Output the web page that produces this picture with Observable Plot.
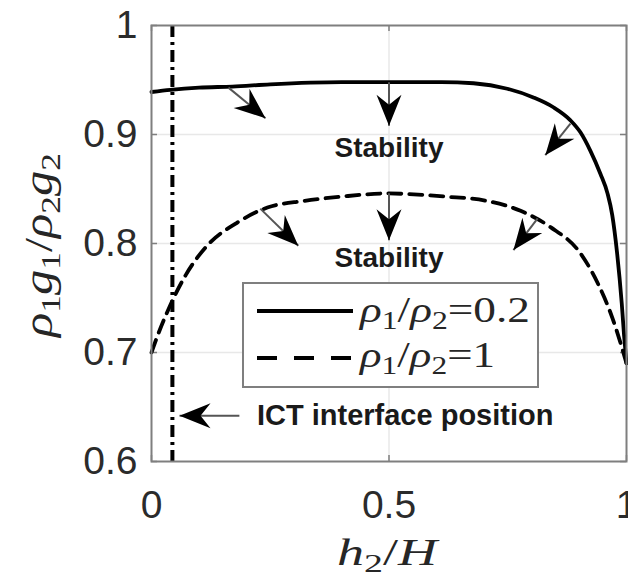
<!DOCTYPE html>
<html><head><meta charset="utf-8">
<script src="https://cdn.jsdelivr.net/npm/d3@7"></script>
<script src="https://cdn.jsdelivr.net/npm/@observablehq/plot@0.6"></script>
<style>
body{margin:0;background:#fff;}
#wrap{position:relative;width:628px;height:585px;overflow:hidden;background:#fff;}
#wrap svg{display:block;}
</style></head><body><div id="wrap"></div>
<script>
// ---- data ----
const xTicks = [0, 0.5, 1];
const yTicks = [0.6, 0.7, 0.8, 0.9, 1];
const gridX = [0.5];
const gridY = [0.7, 0.8, 0.9];

// rho1/rho2 = 0.2 (solid)
const solidX = [0, 0.04, 0.10, 0.17, 0.25, 0.40, 0.50, 0.61, 0.678, 0.749, 0.804, 0.846, 0.882, 0.903, 0.924, 0.945, 0.96, 0.97, 0.98, 0.99, 0.995, 1.0];
const solidY = [0.939, 0.941, 0.943, 0.944, 0.946, 0.948, 0.948, 0.948, 0.947, 0.942, 0.934, 0.925, 0.913, 0.902, 0.885, 0.864, 0.846, 0.826, 0.792, 0.745, 0.715, 0.690];
// rho1/rho2 = 1 (dashed)
const dashX = [0, 0.004, 0.036, 0.072, 0.117, 0.18, 0.244, 0.32, 0.40, 0.50, 0.552, 0.62, 0.707, 0.777, 0.84, 0.903, 0.939, 0.97, 0.99, 1.0];
const dashY = [0.700, 0.705, 0.740, 0.771, 0.798, 0.819, 0.833, 0.839, 0.843, 0.846, 0.845, 0.843, 0.839, 0.830, 0.815, 0.791, 0.764, 0.732, 0.705, 0.690];

const ictX = 0.044;

// annotation arrows (start -> tip)
const arrowX1 = [0.162, 0.5, 0.882, 0.229, 0.5, 0.813, 0.185];
const arrowY1 = [0.943, 0.948, 0.910, 0.832, 0.846, 0.823, 0.642];
const arrowX2 = [0.240, 0.5, 0.829, 0.309, 0.5, 0.762, 0.059];
const arrowY2 = [0.915, 0.908, 0.881, 0.798, 0.803, 0.794, 0.642];

const stabText = ["Stability", "Stability"];
const stabX = [0.5, 0.5];
const stabY = [0.888, 0.787];
const ictText = ["ICT interface position"];
const ictLabelX = [0.222];
const ictLabelY = [0.642];

// ---- layout ----
const W = 628, H = 585, ML = 151, MR = 2, MT = 25, MB = 124;
const xs = d3.scaleLinear([0, 1], [ML, W - MR]);
const ys = d3.scaleLinear([0.6, 1], [H - MB, MT]);

const solid = solidX.map((x, i) => ({x, y: solidY[i]}));
const dashed = dashX.map((x, i) => ({x, y: dashY[i]}));
const arrows = arrowX1.map((x1, i) => ({x1, y1: arrowY1[i], x2: arrowX2[i], y2: arrowY2[i]}));
arrows.forEach(a => {
  a.angle = Math.atan2(xs(a.x2) - xs(a.x1), ys(a.y1) - ys(a.y2)) * 180 / Math.PI;
});
const stab = stabText.map((t, i) => ({t, x: stabX[i], y: stabY[i]}));
const ict = ictText.map((t, i) => ({t, x: ictLabelX[i], y: ictLabelY[i]}));

const head = {draw(ctx) { ctx.moveTo(0, 0); ctx.lineTo(-12.5, 31); ctx.lineTo(0, 21); ctx.lineTo(12.5, 31); ctx.closePath(); }};

const dxT = 6 / 475, dyT = 0.4 * 6 / 436;
const tickStyle = {stroke: "#7f7f7f", strokeWidth: 1.5};
const boldFont = "'Liberation Sans', Arial, sans-serif";

const plot = Plot.plot({
  width: W, height: H,
  marginLeft: ML, marginRight: MR, marginTop: MT, marginBottom: MB,
  style: {fontFamily: "'Liberation Sans', Arial, sans-serif", fontSize: "39px", color: "#2b2b2b", background: "white"},
  x: {domain: [0, 1], ticks: xTicks, tickFormat: d => String(d), tickSize: 0, tickPadding: 29, label: null},
  y: {domain: [0.6, 1], ticks: yTicks, tickFormat: d => String(d), tickSize: 0, tickPadding: 14, label: null},
  marks: [
    Plot.ruleY(gridY, {stroke: "#e8e8e8", strokeWidth: 1.5}),
    Plot.ruleX(gridX, {stroke: "#e8e8e8", strokeWidth: 1.5}),
    Plot.ruleX(xTicks, {y1: 0.6, y2: 0.6 + dyT, ...tickStyle}),
    Plot.ruleX(xTicks, {y1: 1 - dyT, y2: 1, ...tickStyle}),
    Plot.ruleY(yTicks, {x1: 0, x2: dxT, ...tickStyle}),
    Plot.ruleY(yTicks, {x1: 1 - dxT, x2: 1, ...tickStyle}),
    Plot.line(solid, {x: "x", y: "y", stroke: "black", strokeWidth: 3.8, curve: "monotone-x"}),
    Plot.line(dashed, {x: "x", y: "y", stroke: "black", strokeWidth: 3.8, strokeDasharray: "13,8", curve: "monotone-x"}),
    Plot.ruleX([ictX], {stroke: "black", strokeWidth: 4, strokeDasharray: "12,5,3,5"}),
    Plot.link(arrows, {x1: "x1", y1: "y1", x2: "x2", y2: "y2", stroke: "#555", strokeWidth: 2}),
    Plot.dot(arrows, {x: "x2", y: "y2", rotate: "angle", symbol: head, fill: "black", stroke: "none", r: 10}),
    Plot.text(stab, {x: "x", y: "y", text: "t", textAnchor: "middle", fontWeight: "bold", fontSize: 28, fill: "#1a1a1a", fontFamily: boldFont}),
    Plot.text(ict, {x: "x", y: "y", text: "t", textAnchor: "start", fontWeight: "bold", fontSize: 29, fill: "#1a1a1a", fontFamily: boldFont}),
    Plot.frame({stroke: "#7f7f7f", strokeWidth: 2})
  ]
});

document.getElementById("wrap").appendChild(plot);

// axis titles (LaTeX-like math)
const svg = d3.select(plot);
const serif = "'Liberation Serif', 'DejaVu Serif', serif";
function mathText(g, parts, size) {
  const t = g.append("text").attr("font-family", serif).attr("font-size", size).attr("fill", "#262626");
  let shift = 0;
  parts.forEach(([s, kind]) => {
    const sp = t.append("tspan").text(s);
    if (kind === "i") sp.attr("font-style", "italic");
    if (kind === "sub") { sp.attr("font-size", size * 0.7); sp.attr("dy", size * 0.2 - shift); shift = size * 0.2; }
    else { sp.attr("dy", -shift); shift = 0; }
  });
  return t;
}
const yl = svg.append("g").attr("transform", "translate(52,245) rotate(-90)");
mathText(yl, [["ρ","i"],["1","sub"],["g","i"],["1","sub"],["/",""],["ρ","i"],["2","sub"],["g","i"],["2","sub"]], 40)
  .attr("text-anchor", "middle").attr("textLength", 184).attr("lengthAdjust", "spacingAndGlyphs");
const xl = svg.append("g").attr("transform", "translate(387,565)");
mathText(xl, [["h","i"],["2","sub"],["/",""],["H","i"]], 37)
  .attr("text-anchor", "middle").attr("textLength", 100).attr("lengthAdjust", "spacingAndGlyphs");

// legend box (inside axes)
const lg = d3.select("#wrap").append("svg")
  .attr("width", 298).attr("height", 107)
  .style("position", "absolute").style("left", "242px").style("top", "282px");
lg.append("rect").attr("x", 1).attr("y", 1).attr("width", 295).attr("height", 104)
  .attr("fill", "white").attr("stroke", "#7f7f7f").attr("stroke-width", 2);
lg.append("line").attr("x1", 15).attr("x2", 111).attr("y1", 29).attr("y2", 29).attr("stroke", "black").attr("stroke-width", 3.8);
lg.append("line").attr("x1", 15).attr("x2", 111).attr("y1", 76).attr("y2", 76).attr("stroke", "black").attr("stroke-width", 3.8).attr("stroke-dasharray", "20,17");
const legItems = [["0.2", 40, 170], ["1", 85, 135]];
legItems.forEach(([v, yy, len]) => {
  const g = lg.append("g").attr("transform", `translate(118,${yy})`);
  mathText(g, [["ρ","i"],["1","sub"],["/",""],["ρ","i"],["2","sub"],["=" + v,""]], 35)
    .attr("textLength", len).attr("lengthAdjust", "spacingAndGlyphs");
});
</script>
</body></html>
